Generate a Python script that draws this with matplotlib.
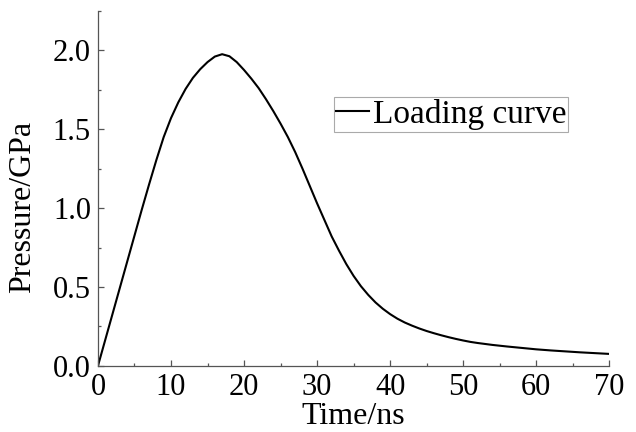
import numpy as np
import matplotlib.pyplot as plt
from matplotlib.ticker import MultipleLocator, FormatStrFormatter

plt.rcParams['font.family'] = ['Liberation Serif', 'DejaVu Serif']

# loading curve
time_ns = [0, 1, 2, 3, 4, 5, 6, 7, 8, 9, 10, 11, 12, 13, 14, 15, 16, 17,
           18, 19, 20, 21, 22, 23, 24, 25, 26, 27, 28, 29, 30, 31, 32, 33,
           34, 35, 36, 37, 38, 39, 40, 41, 42, 43, 44, 45, 46, 47, 48, 49,
           50, 51, 52, 54, 56, 58, 60, 62, 64, 66, 68, 70]
pressure_gpa = [0.0, 0.165, 0.33, 0.495, 0.66, 0.825, 0.99, 1.15, 1.305,
                1.45, 1.57, 1.67, 1.755, 1.825, 1.88, 1.925, 1.960, 1.975,
                1.962, 1.925, 1.875, 1.82, 1.76, 1.69, 1.615, 1.535, 1.45,
                1.355, 1.25, 1.14, 1.03, 0.925, 0.82, 0.73, 0.645, 0.57,
                0.505, 0.45, 0.402, 0.362, 0.328, 0.299, 0.275, 0.255, 0.237,
                0.221, 0.207, 0.194, 0.182, 0.171, 0.161, 0.152, 0.145,
                0.133, 0.123, 0.114, 0.105, 0.098, 0.092, 0.086, 0.081,
                0.076]

fig = plt.figure(figsize=(6.36, 4.32), dpi=100)
ax = fig.add_axes([0.154, 0.153, 0.804, 0.822])

ax.plot(time_ns, pressure_gpa, color='black', lw=1.5, label='Loading curve',
        solid_joinstyle='round')

ax.set_xlim(0, 70)
ax.set_ylim(0, 2.25)
ax.xaxis.set_major_locator(MultipleLocator(10))
ax.xaxis.set_minor_locator(MultipleLocator(5))
ax.yaxis.set_major_locator(MultipleLocator(0.5))
ax.yaxis.set_minor_locator(MultipleLocator(0.25))
ax.yaxis.set_major_formatter(FormatStrFormatter('%.1f'))

for side in ['top', 'right']:
    ax.spines[side].set_visible(False)
for side in ['left', 'bottom']:
    ax.spines[side].set_color('#555555')
    ax.spines[side].set_linewidth(0.9)

ax.tick_params(which='both', direction='in', color='#555555', width=0.9,
               labelsize=22)
ax.tick_params(which='major', length=4, pad=5)
ax.tick_params(which='minor', length=2)

ax.set_xlabel('Time/ns', fontsize=23, labelpad=0)
ax.set_ylabel('Pressure/GPa', fontsize=23)
ax.yaxis.set_label_coords(-0.12, 0.447)

leg = ax.legend(loc='upper left', bbox_to_anchor=(0.462, 0.756),
                fontsize=24, handlelength=1.0, handletextpad=0.1,
                borderpad=0.05, borderaxespad=0, fancybox=False,
                framealpha=1, edgecolor='#aaaaaa')
leg.get_frame().set_linewidth(0.8)

fig.savefig('out.png', dpi=100)
